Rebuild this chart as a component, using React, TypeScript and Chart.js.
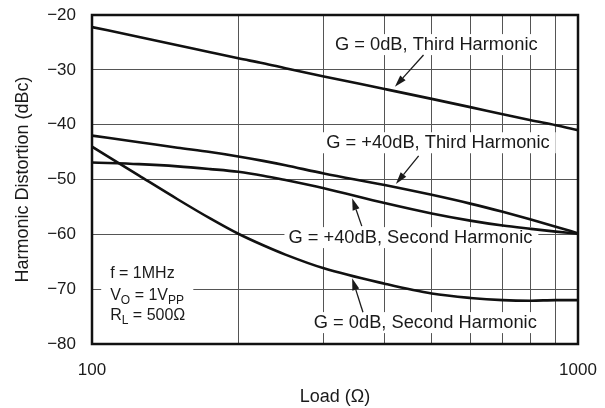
import React, { useEffect, useRef } from 'react';
import { Chart, registerables } from 'chart.js';

Chart.register(...registerables);

// ---- data ----
const loads = [100, 125, 150, 175, 200, 225, 250, 300, 400, 500, 600, 700, 800, 900, 1000];
const g0Third = [-22.2, -24.0, -25.5, -26.8, -27.9, -28.8, -29.7, -31.2, -33.5, -35.3, -36.8, -38.1, -39.2, -40.1, -41.0];
const g40Third = [-42.0, -43.2, -44.2, -45.0, -45.8, -46.6, -47.4, -48.9, -51.0, -52.8, -54.4, -55.9, -57.3, -58.6, -59.8];
const g40Second = [-46.9, -47.2, -47.6, -48.1, -48.6, -49.3, -50.1, -51.6, -54.3, -56.2, -57.5, -58.4, -59.0, -59.5, -59.9];
const g0Second = [-44.0, -49.3, -53.6, -57.1, -59.9, -62.0, -63.7, -66.2, -69.0, -70.8, -71.6, -72.0, -72.1, -72.0, -72.0];

const xTickValues = [100, 200, 300, 400, 500, 600, 700, 800, 900, 1000];
const xTickLabels: Record<number, string> = { 100: '100', 1000: '1000' };
const yTickValues = [-80, -70, -60, -50, -40, -30, -20];

const xTitle = 'Load (Ω)';
const yTitle = 'Harmonic Distortion (dBc)';

// annotation anchors in data coordinates (load, dBc)
const labelTexts = [
  'G = 0dB, Third Harmonic',
  'G = +40dB, Third Harmonic',
  'G = +40dB, Second Harmonic',
  'G = 0dB, Second Harmonic',
];
const labelAt: [number, number][] = [[511, -26.4], [515, -44.3], [452, -61.6], [485, -77.1]];
const arrowTail: [number, number][] = [[481, -27.3], [470, -45.7], [359, -58.5], [361, -74.2]];
const arrowTip: [number, number][] = [[420, -33.1], [422, -50.8], [343, -53.4], [343, -68.0]];

const condLines: { t: string; sub?: boolean }[][] = [
  [{ t: 'f = 1MHz' }],
  [{ t: 'V' }, { t: 'O', sub: true }, { t: ' = 1V' }, { t: 'PP', sub: true }],
  [{ t: 'R' }, { t: 'L', sub: true }, { t: ' = 500Ω' }],
];
const condX = 109;
const condBaselines = [-67.9, -71.9, -75.6];

const FONT = '"Liberation Sans", Arial, Helvetica, sans-serif';
const INK = '#1a1a1a';

const annotationPlugin = {
  id: 'annot',
  beforeDatasetsDraw(chart: any) {
    const { ctx, scales } = chart;
    const xs = scales.x, ys = scales.y;
    ctx.save();
    ctx.font = `18.3px ${FONT}`;
    labelTexts.forEach((txt, i) => {
      const cx = xs.getPixelForValue(labelAt[i][0]);
      const by = ys.getPixelForValue(labelAt[i][1]);
      const w = ctx.measureText(txt).width;
      ctx.fillStyle = '#fff';
      ctx.fillRect(cx - w / 2 - 4, by - 16, w + 10, 21);
      ctx.fillStyle = INK;
      ctx.textAlign = 'center';
      ctx.textBaseline = 'alphabetic';
      ctx.fillText(txt, cx, by);
    });
    const lx = xs.getPixelForValue(condX);
    let maxW = 0;
    condLines.forEach((segs) => {
      let w = 0;
      segs.forEach((s) => {
        ctx.font = s.sub ? `12px ${FONT}` : `16px ${FONT}`;
        w += ctx.measureText(s.t).width;
      });
      maxW = Math.max(maxW, w);
    });
    const top = ys.getPixelForValue(condBaselines[0]) - 16;
    const bottom = ys.getPixelForValue(condBaselines[2]) + 6;
    ctx.fillStyle = '#fff';
    ctx.fillRect(lx - 9, top, maxW + 17, bottom - top);
    ctx.fillStyle = INK;
    ctx.textAlign = 'left';
    ctx.textBaseline = 'alphabetic';
    condLines.forEach((segs, i) => {
      let x = lx;
      const by = ys.getPixelForValue(condBaselines[i]);
      segs.forEach((s) => {
        ctx.font = s.sub ? `12px ${FONT}` : `16px ${FONT}`;
        ctx.fillText(s.t, x, s.sub ? by + 4 : by);
        x += ctx.measureText(s.t).width;
      });
    });
    ctx.restore();
  },
  afterDatasetsDraw(chart: any) {
    const { ctx, scales, chartArea } = chart;
    const xs = scales.x, ys = scales.y;
    ctx.save();
    ctx.strokeStyle = INK;
    ctx.fillStyle = INK;
    arrowTail.forEach((tail, i) => {
      const x0 = xs.getPixelForValue(tail[0]);
      const y0 = ys.getPixelForValue(tail[1]);
      const x1 = xs.getPixelForValue(arrowTip[i][0]);
      const y1 = ys.getPixelForValue(arrowTip[i][1]);
      const ang = Math.atan2(y1 - y0, x1 - x0);
      const len = 12, hw = 3.6;
      const bx = x1 - len * Math.cos(ang), by = y1 - len * Math.sin(ang);
      ctx.lineWidth = 1.3;
      ctx.beginPath();
      ctx.moveTo(x0, y0);
      ctx.lineTo(bx, by);
      ctx.stroke();
      ctx.beginPath();
      ctx.moveTo(x1, y1);
      ctx.lineTo(bx + hw * Math.sin(ang), by - hw * Math.cos(ang));
      ctx.lineTo(bx - hw * Math.sin(ang), by + hw * Math.cos(ang));
      ctx.closePath();
      ctx.fill();
    });
    ctx.lineWidth = 2.5;
    ctx.strokeStyle = '#111';
    ctx.strokeRect(chartArea.left, chartArea.top, chartArea.right - chartArea.left, chartArea.bottom - chartArea.top);
    ctx.restore();
  },
};

const mk = (vals: number[]) => ({
  data: loads.map((x, i) => ({ x, y: vals[i] })),
  borderColor: '#111',
  borderWidth: 2.6,
  pointRadius: 0,
  fill: false,
  cubicInterpolationMode: 'monotone' as const,
});

const zeroPad = (s: any) => {
  s.paddingLeft = 0;
  s.paddingRight = 0;
  s.paddingTop = 0;
  s.paddingBottom = 0;
};

export default function App() {
  const ref = useRef<HTMLCanvasElement | null>(null);
  useEffect(() => {
    if (!ref.current) return;
    Chart.defaults.font.family = FONT;
    const chart = new Chart(ref.current, {
      type: 'line',
      data: { datasets: [mk(g0Third), mk(g40Third), mk(g40Second), mk(g0Second)] as any },
      options: {
        responsive: false,
        animation: false,
        devicePixelRatio: 1,
        layout: { padding: { left: 0, right: 27, top: 15, bottom: 0 } },
        plugins: { legend: { display: false }, tooltip: { enabled: false } },
        scales: {
          x: {
            type: 'logarithmic',
            min: 100,
            max: 1000,
            afterBuildTicks: (s: any) => {
              s.ticks = xTickValues.map((v) => ({ value: v }));
            },
            afterFit: (s: any) => {
              s.height = 64;
              zeroPad(s);
            },
            grid: { color: '#555', lineWidth: 1, drawTicks: false },
            border: { display: false },
            ticks: {
              autoSkip: false,
              maxRotation: 0,
              padding: 16,
              color: INK,
              font: { size: 17 },
              callback: (v: any) => xTickLabels[Number(v)] ?? '',
            },
            title: { display: true, text: xTitle, color: INK, font: { size: 18 }, padding: { top: 0, bottom: 0 } },
          },
          y: {
            min: -80,
            max: -20,
            afterBuildTicks: (s: any) => {
              s.ticks = yTickValues.map((v) => ({ value: v }));
            },
            afterFit: (s: any) => {
              s.width = 92;
              zeroPad(s);
            },
            grid: { color: '#555', lineWidth: 1, drawTicks: false },
            border: { display: false },
            ticks: {
              padding: 16,
              color: INK,
              font: { size: 17 },
              callback: (v: any) => (Number(v) < 0 ? '\u2212' + Math.abs(Number(v)) : String(v)),
            },
            title: { display: true, text: yTitle, color: INK, font: { size: 18 }, padding: { top: 12, bottom: 0 } },
          },
        },
      } as any,
      plugins: [annotationPlugin],
    });
    return () => chart.destroy();
  }, []);
  return (
    <div style={{ position: 'fixed', left: 0, top: 0, width: 605, height: 408, background: '#fff' }}>
      <canvas ref={ref} width={605} height={408} style={{ display: 'block' }} />
    </div>
  );
}
